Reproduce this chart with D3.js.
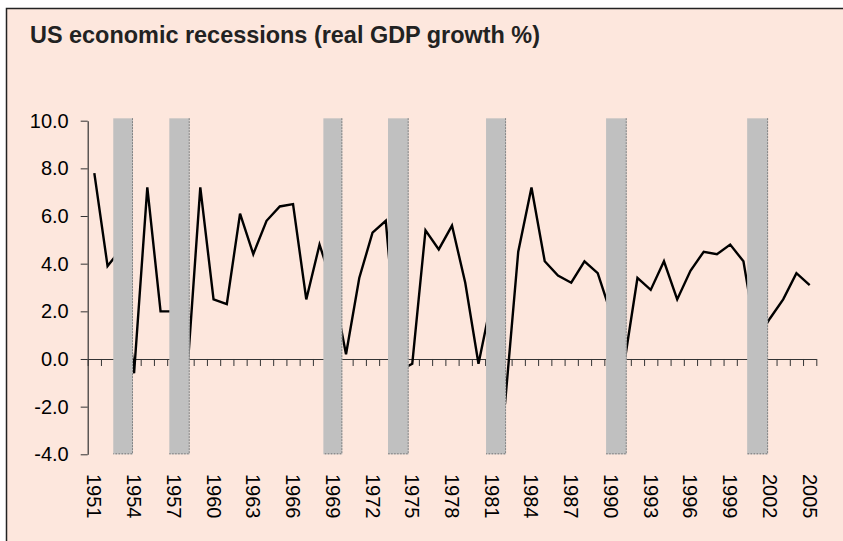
<!DOCTYPE html>
<html>
<head>
<meta charset="utf-8">
<script src="https://cdn.jsdelivr.net/npm/d3@7"></script>
<style>
  body { margin: 0; background: #fff; }
  svg { display: block; font-family: "Liberation Sans", Arial, sans-serif; }
  .yaxis text { font-size: 20px; fill: #000; }
  .yaxis line, .yaxis path, .xaxis line, .xaxis path { stroke: #333; }
  .xlabel { font-size: 20px; fill: #000; }
</style>
</head>
<body>
<div id="chart"></div>
<script>
// real GDP growth, % per year, 1951..2005
let years = d3.range(1951, 2006);
let growth = [7.8, 3.9, 4.6, -0.6, 7.2, 2.0, 2.0, -0.7, 7.2, 2.5,
              2.3, 6.1, 4.4, 5.8, 6.4, 6.5, 2.5, 4.8, 3.1, 0.2,
              3.4, 5.3, 5.8, -0.5, -0.2, 5.4, 4.6, 5.6, 3.2, -0.2,
              2.5, -1.9, 4.5, 7.2, 4.1, 3.5, 3.2, 4.1, 3.6, 1.9,
              -0.2, 3.4, 2.9, 4.1, 2.5, 3.7, 4.5, 4.4, 4.8, 4.1,
              0.8, 1.7, 2.5, 3.6, 3.1];
// recession shading, in (fractional) years
let recStart = [1952.43, 1956.66, 1968.29, 1973.17, 1980.57, 1989.63, 2000.28];
let recEnd   = [1953.92, 1958.20, 1969.72, 1974.73, 1982.08, 1991.19, 2001.86];
let recTop = 10.1, recBottom = -4;
let yTicks = [-4, -2, 0, 2, 4, 6, 8, 10];
let xLabelYears = d3.range(1951, 2006, 3);

let width = 843, height = 541;
let plot = {left: 87.7, right: 816.3, top: 120.7, bottom: 454.3};

let svg = d3.select("#chart").append("svg")
    .attr("width", width)
    .attr("height", height);

// panel
svg.append("rect")
    .attr("x", 6).attr("y", 8)
    .attr("width", width - 6).attr("height", height - 8)
    .attr("fill", "#fde7dd");
svg.append("path")
    .attr("d", "M6.5," + height + "V8.5H" + width)
    .attr("fill", "none")
    .attr("stroke", "#222")
    .attr("stroke-width", 1.5);

svg.append("text")
    .attr("x", 30)
    .attr("y", 43)
    .attr("font-size", 23)
    .attr("font-weight", "bold")
    .attr("fill", "#222")
    .attr("textLength", 510)
    .attr("lengthAdjust", "spacingAndGlyphs")
    .text("US economic recessions (real GDP growth %)");

let x = d3.scaleBand().domain(years).range([plot.left, plot.right]).padding(0);
let xLin = d3.scaleLinear().domain([1950.5, 2005.5]).range([plot.left, plot.right]);
let y = d3.scaleLinear().domain([-4, 10]).range([plot.bottom, plot.top]);

// x axis on zero line, ticks between categories
let bounds = d3.range(0, years.length + 1).map(function(i) { return 1950.5 + i; });
svg.append("g")
    .attr("class", "xaxis")
    .attr("transform", "translate(0," + y(0) + ")")
    .call(d3.axisBottom(xLin).tickValues(bounds).tickFormat("").tickSizeInner(7).tickSizeOuter(0));

svg.selectAll(".xlabel")
    .data(xLabelYears)
    .enter().append("text")
    .attr("class", "xlabel")
    .attr("transform", function(d) {
        return "translate(" + (x(d) + x.bandwidth() / 2) + ",474) rotate(90)";
    })
    .attr("dy", "0.35em")
    .text(function(d) { return d; });

svg.append("g")
    .attr("class", "yaxis")
    .attr("transform", "translate(" + plot.left + ",0)")
    .call(d3.axisLeft(y).tickValues(yTicks)
        .tickFormat(function(d) { return d.toFixed(1); })
        .tickSizeInner(7).tickSizeOuter(0).tickPadding(12));

svg.selectAll(".domain").attr("stroke-width", 1.2);

let line = d3.line()
    .x(function(d, i) { return x(years[i]) + x.bandwidth() / 2; })
    .y(function(d) { return y(d); });

svg.append("path")
    .datum(growth)
    .attr("fill", "none")
    .attr("stroke", "#000")
    .attr("stroke-width", 2.4)
    .attr("stroke-linejoin", "miter")
    .attr("d", line);

// recession bars drawn over the line
let rec = svg.selectAll(".rec")
    .data(recStart)
    .enter().append("g")
    .attr("class", "rec");

rec.append("rect")
    .attr("x", function(d) { return xLin(d); })
    .attr("y", y(recTop))
    .attr("width", function(d, i) { return xLin(recEnd[i]) - xLin(d); })
    .attr("height", y(recBottom) - y(recTop))
    .attr("fill", "#c0c0c0");

rec.append("path")
    .attr("d", function(d, i) {
        return "M" + (xLin(recEnd[i]) - 0.5) + "," + y(recTop) +
               "V" + (y(recBottom) - 0.5) + "H" + xLin(d);
    })
    .attr("fill", "none")
    .attr("stroke", "#777")
    .attr("stroke-width", 1)
    .attr("stroke-dasharray", "1.5,1.5");
</script>
</body>
</html>
